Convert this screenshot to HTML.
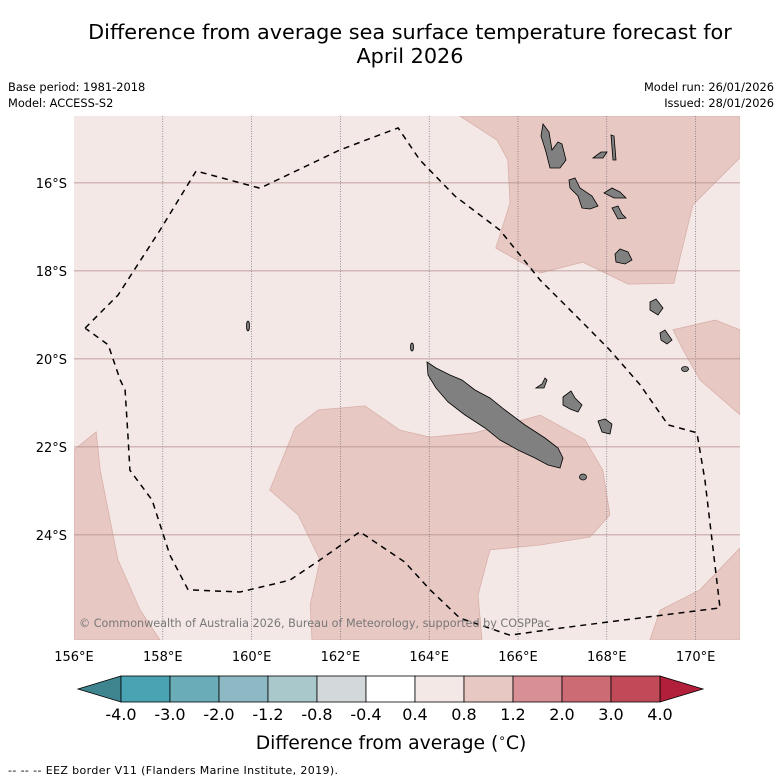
<!DOCTYPE html>
<html><head><meta charset="utf-8">
<style>
html,body{margin:0;padding:0;background:#fff;}
svg{display:block;font-family:"DejaVu Sans","Liberation Sans",sans-serif;}
</style></head>
<body>
<svg id="chart" width="781" height="781" viewBox="0 0 781 781" xmlns="http://www.w3.org/2000/svg">
  <text x="410" y="39" font-size="20.8" text-anchor="middle" fill="#000">Difference from average sea surface temperature forecast for</text>
  <text x="410" y="63" font-size="20.8" text-anchor="middle" fill="#000">April 2026</text>
  <text x="8" y="91" font-size="11.4">Base period: 1981-2018</text>
  <text x="8" y="107" font-size="11.4">Model: ACCESS-S2</text>
  <text x="774" y="91" font-size="11.4" text-anchor="end">Model run: 26/01/2026</text>
  <text x="774" y="107" font-size="11.4" text-anchor="end">Issued: 28/01/2026</text>
  <defs><clipPath id="mapclip"><rect x="74" y="116" width="666" height="524"/></clipPath></defs>
  <g id="map" clip-path="url(#mapclip)">
    <rect x="74" y="116" width="666" height="524" fill="#f4e8e6"/>
    <g id="regions"></g>
    <g id="grid"></g>
    <g id="islands" fill="#808080" stroke="#000" stroke-width="0.8">
      <path d="M427,362 L436,368 L450,375 L462,380 L475,390 L490,398 L505,410 L525,425 L545,438 L558,448 L563,458 L560,468 L548,465 L535,458 L518,450 L500,440 L485,428 L465,415 L448,402 L436,388 L428,375 Z"/>
      <path d="M543,124 L549,132 L552,150 L558,142 L562,144 L566,160 L560,168 L550,168 L546,152 L541,136 Z"/>
      <path d="M569,180 L575,178 L580,188 L592,196 L598,206 L590,209 L582,208 L578,196 L570,188 Z"/>
      <path d="M604,193 L612,188 L620,192 L626,198 L614,198 Z"/>
      <path d="M611,135 L614,136 L616,160 L613,160 Z"/>
      <path d="M593,158 L601,152 L607,152 L603,158 Z"/>
      <path d="M612,208 L618,206 L622,214 L626,218 L618,219 Z"/>
      <path d="M615,254 L620,249 L628,252 L632,260 L625,264 L616,262 Z"/>
      <path d="M563,397 L571,391 L575,398 L582,405 L578,412 L570,409 L563,405 Z"/>
      <path d="M598,421 L605,419 L612,424 L610,434 L602,432 Z"/>
      <path d="M536,388 L542,384 L545,378 L547,380 L544,388 Z"/>
      <path d="M650,302 L656,299 L663,308 L658,315 L650,310 Z"/>
      <path d="M660,333 L665,330 L672,340 L667,344 L661,340 Z"/>
      <ellipse cx="685" cy="369" rx="3.5" ry="2.5"/>
      <ellipse cx="583" cy="477" rx="3.5" ry="3"/>
      <ellipse cx="248" cy="326" rx="1.5" ry="5"/>
      <ellipse cx="412" cy="347" rx="1.5" ry="4"/>
    </g>
    <path id="eez" fill="none" stroke="#000" stroke-width="1.5" stroke-dasharray="6,5"/>
    <text x="79" y="627" font-size="11.2" fill="#777">© Commonwealth of Australia 2026, Bureau of Meteorology, supported by COSPPac</text>
  </g>
  <g id="axes"></g>
  <g id="colorbar"></g>
  <text x="391" y="749" font-size="18.8" text-anchor="middle">Difference from average (<tspan font-size="12" dy="-7">∘</tspan><tspan dy="7">C)</tspan></text>
  <text x="8" y="774" font-size="11" textLength="330">-- -- -- EEZ border V11 (Flanders Marine Institute, 2019).</text>
</svg>
<script>
// ---- data ----
const lonTicks = [156,158,160,162,164,166,168,170];
const latTicks = [16,18,20,22,24];
const cbLevels = ["-4.0","-3.0","-2.0","-1.2","-0.8","-0.4","0.4","0.8","1.2","2.0","3.0","4.0"];
const cbColors = ["#4aa3b2","#6aadb9","#8cb9c4","#a9c8cc","#d3d8da","#ffffff","#f4e8e6","#e8c8c3","#d88f95","#cd6b75","#c04a58"];
const cbLow = "#3e8590";
const cbHigh = "#b11f3a";
const anomTopRight = [[164.69,14.48],[165.53,15.03],[165.77,15.48],[165.82,16.46],[165.50,17.48],[166.50,18.05],[167.46,17.80],[168.48,18.30],[169.51,18.28],[169.94,16.50],[171,15.43],[171,14.48]];
const anomRight = [[169.49,19.34],[170.44,19.12],[171,19.34],[171,21.27],[170.10,20.48],[169.72,19.80]];
const anomBottomLeft = [[156,22.07],[156.50,21.66],[156.59,22.53],[156.99,24.57],[157.49,25.71],[157.94,26.39],[156,26.39]];
const anomCentral = [[160.41,22.98],[160.98,21.57],[161.50,21.16],[162.55,21.07],[163.34,21.62],[164.02,21.78],[165.03,21.68],[166.50,21.28],[167.51,21.84],[167.91,22.53],[168.07,23.55],[167.62,24.05],[166.50,24.23],[165.37,24.34],[165.10,25.37],[165.19,26.39],[161.36,26.39],[161.32,25.59],[161.54,24.57],[161.05,23.55]];
const anomBottomRight = [[168.97,26.39],[169.20,25.71],[170.10,25.25],[171,24.30],[171,26.39]];
const eezBorder = [[156.25,19.30],[156.99,18.55],[157.94,17.07],[158.75,15.73],[160.19,16.12],[161.99,15.25],[163.30,14.75],[163.79,15.48],[164.58,16.30],[165.59,17.07],[166.50,18.21],[167.40,19.12],[168.07,19.80],[168.75,20.59],[169.38,21.50],[170.03,21.68],[170.21,22.75],[170.55,25.66],[168.75,25.89],[166.95,26.12],[165.82,26.28],[164.69,25.89],[164.02,25.25],[163.45,24.62],[162.44,23.93],[161.54,24.57],[160.86,25.03],[159.74,25.30],[158.57,25.25],[158.16,24.46],[157.76,23.21],[157.26,22.53],[157.22,21.84],[157.15,20.71],[157.04,20.48],[156.77,19.68],[156.25,19.30]];

// ---- axis functions ----
const X0=74, X1=740, LON0=156, LON1=171;
const Y0=116, Y1=640, LAT0=14.48, LAT1=26.39;
const xs = lon => X0 + (lon-LON0)/(LON1-LON0)*(X1-X0);
const ys = lat => Y0 + (lat-LAT0)/(LAT1-LAT0)*(Y1-Y0);
const NS='http://www.w3.org/2000/svg';
const mk = (tag, attrs, parent) => { const e=document.createElementNS(NS,tag); for(const k in attrs) e.setAttribute(k,attrs[k]); parent.appendChild(e); return e; };
const ptsStr = arr => arr.map(p=>xs(p[0]).toFixed(1)+','+ys(p[1]).toFixed(1)).join(' ');

const regions=document.getElementById('regions');
[["anomaly-region-top-right",anomTopRight],["anomaly-region-right",anomRight],["anomaly-region-bottom-left",anomBottomLeft],["anomaly-region-central",anomCentral],["anomaly-region-bottom-right",anomBottomRight]].forEach(r=>{
  const p=mk('polygon',{points:ptsStr(r[1]),fill:'#e8c8c3',stroke:'#d8b0aa','stroke-width':'0.8'},regions);
  
  
});

const grid=document.getElementById('grid');
const axes=document.getElementById('axes');
lonTicks.forEach(l=>{
  const x=xs(l);
  if(l>LON0){
    const g=mk('line',{x1:x,x2:x,y1:Y0,y2:Y1,stroke:'#556','stroke-width':'0.6','stroke-dasharray':'1,1.5'},grid);
    
    
  }
  const t=mk('text',{x:x,y:661,'font-size':'13','text-anchor':'middle'},axes);
  t.textContent=l+'°E';
  
  
});
latTicks.forEach(l=>{
  const y=ys(l);
  const g=mk('line',{x1:X0,x2:X1,y1:y,y2:y,stroke:'#b08a88','stroke-width':'0.8'},grid);
  
  
  const t=mk('text',{x:67,y:y+5,'font-size':'13','text-anchor':'end'},axes);
  t.textContent=l+'°S';
  
  
});

document.getElementById('eez').setAttribute('d','M'+eezBorder.map(p=>xs(p[0]).toFixed(1)+','+ys(p[1]).toFixed(1)).join(' L'));

// ---- colorbar ----
const cb=document.getElementById('colorbar');
const CB0=121, CB1=660, CBT=676, CBB=702, TRI=43;
const bw=(CB1-CB0)/cbColors.length;
const lt=mk('polygon',{points:`${CB0},${CBT} ${CB0-TRI},${(CBT+CBB)/2} ${CB0},${CBB}`,fill:cbLow,stroke:'#000','stroke-width':'0.8'},cb);


const rt=mk('polygon',{points:`${CB1},${CBT} ${CB1+TRI},${(CBT+CBB)/2} ${CB1},${CBB}`,fill:cbHigh,stroke:'#000','stroke-width':'0.8'},cb);


cbColors.forEach((c,i)=>{
  const r=mk('rect',{x:CB0+i*bw,y:CBT,width:bw,height:CBB-CBT,fill:c,stroke:'#000','stroke-width':'0.8'},cb);
  
  
});
cbLevels.forEach((lab,i)=>{
  const t=mk('text',{x:CB0+i*bw,y:720,'font-size':'16','text-anchor':'middle'},cb);
  t.textContent=lab;
  
  
});
</script>
</body></html>
